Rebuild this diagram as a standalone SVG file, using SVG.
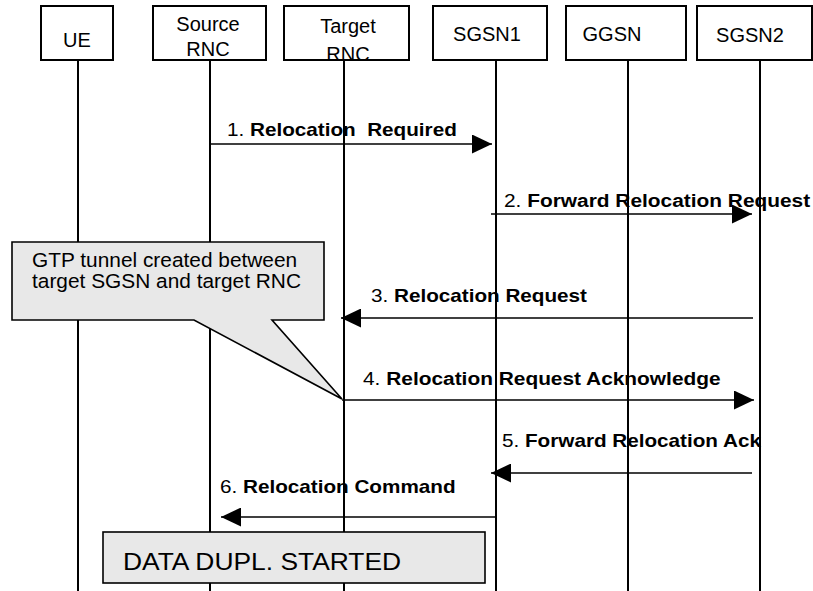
<svg xmlns="http://www.w3.org/2000/svg" width="813" height="591" viewBox="0 0 813 591">
<style>
.box{fill:#fff;stroke:#000;stroke-width:2}
.life{stroke:#000;stroke-width:2}
.msg{stroke:#000;stroke-width:1.6;fill:none}
.nt{font-family:"Liberation Sans",Arial,sans-serif;font-size:20px;text-anchor:middle;fill:#000}
.ml{font-family:"Liberation Sans",Arial,sans-serif;font-size:18px;fill:#000}
.b{font-weight:bold}
.note{fill:#e8e8e8;stroke:#000;stroke-width:1.6}
</style>
<defs>
<marker id="ah" markerWidth="20" markerHeight="19" refX="20" refY="9.5" orient="auto" markerUnits="userSpaceOnUse">
<path d="M0,0 L20,9.5 L0,19 Z" fill="#000"/>
</marker>
</defs>
<g id="lifelines">
<line class="life" x1="78" y1="60" x2="78" y2="591"/>
<line class="life" x1="210" y1="60" x2="210" y2="591"/>
<line class="life" x1="344" y1="60" x2="344" y2="591"/>
<line class="life" x1="496" y1="60" x2="496" y2="591"/>
<line class="life" x1="628" y1="60" x2="628" y2="591"/>
<line class="life" x1="760" y1="60" x2="760" y2="591"/>
</g>
<g id="UE"><rect class="box" x="41" y="6" width="72" height="54"/><text class="nt" x="77" y="47">UE</text></g>
<g id="SourceRNC"><rect class="box" x="153" y="6" width="113" height="54"/><text class="nt" x="208" y="31">Source</text><text class="nt" x="208" y="56">RNC</text></g>
<g id="TargetRNC"><rect class="box" x="284" y="6" width="125" height="54"/><text class="nt" x="348" y="33">Target</text><text class="nt" x="348" y="61">RNC</text></g>
<g id="SGSN1"><rect class="box" x="433" y="6" width="114" height="54"/><text class="nt" x="487" y="41">SGSN1</text></g>
<g id="GGSN"><rect class="box" x="566" y="6" width="120" height="54"/><text class="nt" x="612" y="41">GGSN</text></g>
<g id="SGSN2"><rect class="box" x="697" y="6" width="115" height="54"/><text class="nt" x="750" y="42">SGSN2</text></g>
<g id="callout">
<path class="note" d="M12,242 H324 V320 H272 L342,399 L194,320 H12 Z"/>
<text class="ml" transform="translate(32,267) scale(1.07,1)" style="font-size:19.5px">GTP tunnel created between</text>
<text class="ml" transform="translate(32,288) scale(1.07,1)" style="font-size:19.5px">target SGSN and target RNC</text>
</g>
<g id="connectors">
<line class="msg" x1="210" y1="144" x2="492" y2="144" marker-end="url(#ah)"/>
<line class="msg" x1="491" y1="214" x2="752" y2="214" marker-end="url(#ah)"/>
<line class="msg" x1="753" y1="318" x2="341" y2="318" marker-end="url(#ah)"/>
<line class="msg" x1="342" y1="400" x2="754" y2="400" marker-end="url(#ah)"/>
<line class="msg" x1="752" y1="473" x2="491" y2="473" marker-end="url(#ah)"/>
<line class="msg" x1="496" y1="517" x2="221" y2="517" marker-end="url(#ah)"/>
</g>
<g id="labels">
<text class="ml" transform="translate(227,136) scale(1.15,1)" xml:space="preserve">1. <tspan class="b">Relocation  Required</tspan></text>
<text class="ml" transform="translate(504,207) scale(1.16,1)">2. <tspan class="b">Forward Relocation Request</tspan></text>
<text class="ml" transform="translate(371,302) scale(1.15,1)">3. <tspan class="b">Relocation Request</tspan></text>
<text class="ml" transform="translate(363,385) scale(1.16,1)">4. <tspan class="b">Relocation Request Acknowledge</tspan></text>
<text class="ml" transform="translate(502,447) scale(1.15,1)">5. <tspan class="b">Forward Relocation Ack</tspan></text>
<text class="ml" transform="translate(220,493) scale(1.15,1)">6. <tspan class="b">Relocation Command</tspan></text>
</g>
<g id="dataDupl">
<rect class="note" x="103" y="532" width="382" height="51"/>
<text class="ml" transform="translate(123,570) scale(1.1,1)" style="font-size:24px">DATA DUPL. STARTED</text>
</g>
</svg>
